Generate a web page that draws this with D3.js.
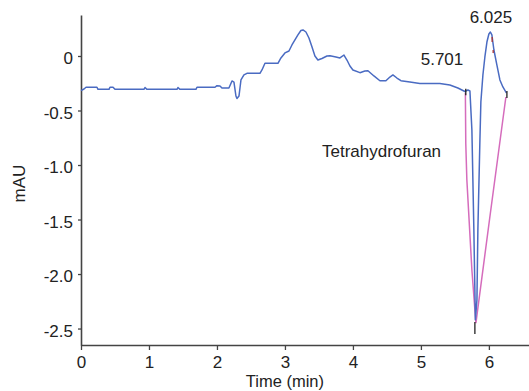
<!DOCTYPE html>
<html>
<head>
<meta charset="utf-8">
<script src="https://cdn.jsdelivr.net/npm/d3@7"></script>
<style>
  body { margin: 0; background: #fff; }
  text { font-family: "Liberation Sans", Arial, Helvetica, sans-serif; fill: #222; }
</style>
</head>
<body>
<div id="chart"></div>
<script>
// chromatogram trace (min, mAU)
var times = [0, 0.044, 0.074, 0.235, 0.25, 0.412, 0.426, 0.471, 0.5, 0.926, 0.941, 0.971,
  1.412, 1.426, 1.456, 1.691, 1.706, 1.971, 2.0, 2.044, 2.074, 2.176, 2.221, 2.25, 2.279,
  2.294, 2.324, 2.353, 2.397, 2.441, 2.632, 2.662, 2.706, 2.897, 2.941, 3.0, 3.059, 3.103,
  3.147, 3.191, 3.235, 3.265, 3.309, 3.353, 3.397, 3.441, 3.485, 3.544, 3.618, 3.662, 3.75,
  3.809, 3.868, 3.912, 3.956, 4.0, 4.103, 4.176, 4.221, 4.309, 4.397, 4.485, 4.544, 4.588,
  4.647, 4.706, 4.838, 4.985, 5.279, 5.426, 5.544, 5.647, 5.691, 5.721, 5.75, 5.779, 5.801,
  5.824, 5.838, 5.868, 5.882, 5.912, 5.941, 5.971, 6.0, 6.022, 6.044, 6.074, 6.118, 6.162,
  6.206, 6.257];
var values = [-0.318, -0.303, -0.287, -0.287, -0.306, -0.306, -0.287, -0.287, -0.306, -0.306, -0.289, -0.306,
  -0.306, -0.289, -0.306, -0.306, -0.287, -0.287, -0.272, -0.275, -0.294, -0.294, -0.229, -0.239, -0.367,
  -0.39, -0.367, -0.22, -0.174, -0.159, -0.159, -0.128, -0.067, -0.067, -0.018, 0.028, 0.046, 0.101,
  0.147, 0.193, 0.234, 0.239, 0.22, 0.165, 0.085, 0.0, -0.037, -0.023, 0.0, 0.003, -0.009,
  -0.018, 0.009, -0.037, -0.092, -0.128, -0.153, -0.138, -0.135, -0.183, -0.227, -0.227, -0.193, -0.174,
  -0.202, -0.227, -0.239, -0.252, -0.252, -0.266, -0.294, -0.326, -0.312, -0.321, -0.679, -1.596, -2.42,
  -2.239, -1.596, -0.771, -0.422, -0.174, -0.009, 0.128, 0.202, 0.22, 0.193, 0.055, -0.083, -0.22,
  -0.284, -0.339];

// integration outline of the negative peak
var pinkTimes = [5.654, 5.66, 5.676, 5.75, 5.809, 6.022, 6.25];
var pinkValues = [-0.339, -0.8, -1.138, -1.963, -2.45, -1.44, -0.376];

// peak event marks: time, from, to
var markTimes = [5.66, 5.794, 6.265, 6.048, 6.063];
var markFrom = [-0.30, -2.44, -0.32, 0.174, 0.055];
var markTo = [-0.36, -2.55, -0.385, 0.128, 0.028];

var peakLabels = ["5.701", "6.025"];
var peakLabelTimes = [5.31, 6.03];
var peakLabelValues = [-0.083, 0.305];

var xTicks = [0, 1, 2, 3, 4, 5, 6];
var yTicks = [0, -0.5, -1.0, -1.5, -2.0, -2.5];
var yTickLabels = ["0", "-0.5", "-1.0", "-1.5", "-2.0", "-2.5"];

var width = 529, height = 391;
var margin = { top: 15, right: 0, bottom: 46, left: 81 };

var svg = d3.select("#chart")
  .append("svg")
  .attr("width", width)
  .attr("height", height);

var x = d3.scaleLinear()
  .domain([0, 6.59])
  .range([margin.left, width - margin.right]);

var y = d3.scaleLinear()
  .domain([-2.651, 0.376])
  .range([height - margin.bottom, margin.top]);

var xAxis = g => g
  .attr("transform", "translate(0," + (height - margin.bottom) + ")")
  .call(d3.axisBottom(x).tickValues(xTicks).tickFormat(d3.format("d"))
    .tickSize(5).tickSizeOuter(0).tickPadding(6));

var yAxis = g => g
  .attr("transform", "translate(" + margin.left + ",0)")
  .call(d3.axisLeft(y).tickValues(yTicks).tickFormat((d, i) => yTickLabels[i])
    .tickSize(3).tickSizeOuter(0).tickPadding(5));

function styleAxis(g) {
  g.select(".domain").attr("stroke", "#444").attr("stroke-width", 1.6);
  g.selectAll(".tick line").attr("stroke", "#444").attr("stroke-width", 1.3);
  g.selectAll(".tick text").attr("font-size", 17).attr("fill", "#222")
    .style("font-family", "'Liberation Sans', Arial, sans-serif");
}

svg.append("g").call(xAxis).call(styleAxis);
svg.append("g").call(yAxis).call(styleAxis)
  .selectAll(".tick text").attr("dy", "0.45em");

var trace = times.map((t, i) => ({ t: t, v: values[i] }));
var outline = pinkTimes.map((t, i) => ({ t: t, v: pinkValues[i] }));

var line = d3.line()
  .x(d => x(d.t))
  .y(d => y(d.v));

svg.append("path")
  .datum(outline)
  .attr("fill", "none")
  .attr("stroke", "#d56cbc")
  .attr("stroke-width", 1.5)
  .attr("d", line);

svg.append("path")
  .datum(trace)
  .attr("fill", "none")
  .attr("stroke", "#4a6bc2")
  .attr("stroke-width", 1.5)
  .attr("stroke-linejoin", "round")
  .attr("d", line);

svg.selectAll(".mark")
  .data(markTimes)
  .join("line")
  .attr("class", "mark")
  .attr("x1", d => x(d))
  .attr("x2", d => x(d))
  .attr("y1", (d, i) => y(markFrom[i]))
  .attr("y2", (d, i) => y(markTo[i]))
  .attr("stroke", (d, i) => i > 2 ? "#a33" : "#222")
  .attr("stroke-width", 1.3);

svg.selectAll(".peak")
  .data(peakLabels)
  .join("text")
  .attr("class", "peak")
  .attr("x", (d, i) => x(peakLabelTimes[i]))
  .attr("y", (d, i) => y(peakLabelValues[i]))
  .attr("text-anchor", "middle")
  .attr("font-size", 17)
  .text(d => d);

svg.append("text")
  .attr("x", x(3))
  .attr("y", 157)
  .attr("x", 322)
  .attr("font-size", 17)
  .text("Tetrahydrofuran");

svg.append("text")
  .attr("x", x(3))
  .attr("y", 387)
  .attr("text-anchor", "middle")
  .attr("font-size", 16.5)
  .text("Time (min)");

svg.append("text")
  .attr("transform", "translate(25," + y(-1.17) + ") rotate(-90)")
  .attr("text-anchor", "middle")
  .attr("font-size", 17)
  .text("mAU");
</script>
</body>
</html>
